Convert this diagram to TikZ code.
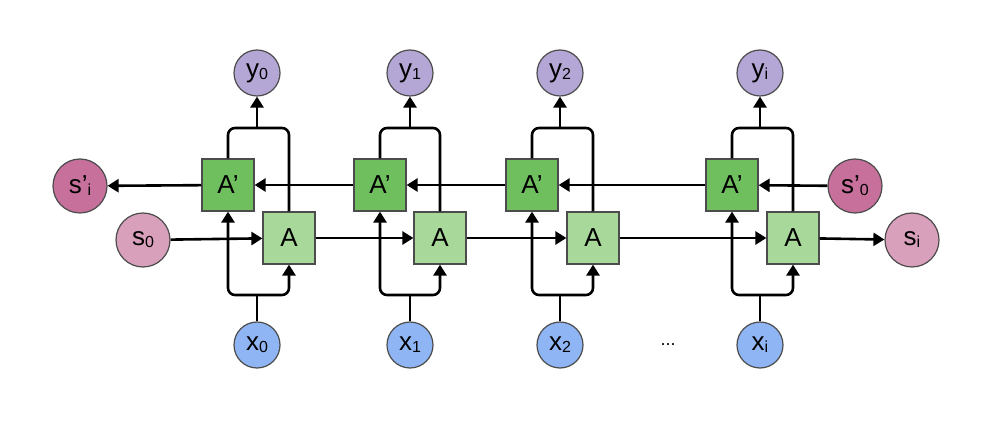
\documentclass[tikz,border=0pt]{standalone}
\usepackage{fontspec}
\setmainfont{Liberation Sans}
\usetikzlibrary{arrows.meta}
\definecolor{cy}{HTML}{B4A7D6}
\definecolor{cx}{HTML}{8FB5F5}
\definecolor{cs}{HTML}{D9A0BC}
\definecolor{csp}{HTML}{C6709B}
\definecolor{cap}{HTML}{6FBF5F}
\definecolor{ca}{HTML}{A9D99A}
\begin{document}
\begin{tikzpicture}[x=1pt,y=-1pt,
  circ/.style={circle,draw=black!70,line width=1.2pt,minimum size=46pt,inner sep=0pt,font=\fontsize{26}{26}\selectfont},
  big/.style={circ,minimum size=54pt},
  box/.style={rectangle,draw=black!70,line width=1.2pt,minimum size=52pt,inner sep=0pt,font=\fontsize{26}{26}\selectfont},
  con/.style={line width=2.6pt,rounded corners=7pt},
  arr/.style={con,-{Triangle[length=11pt,width=13pt]}}]
\useasboundingbox (0,0) rectangle (996,427);
\newcommand\sbs[2]{#1\raisebox{-2pt}{\fontsize{16}{16}\selectfont #2}}
\foreach \i/\a/\ap/\yy/\lab in {0/289/228/257/0,1/440/380/410/1,2/593/532/560/2,3/793/732/760/i}{
  \node[circ,fill=cy] (y\i) at (\yy,73) {\sbs{y}{\lab}};
  \node[circ,fill=cx] (x\i) at (\yy,345) {\sbs{x}{\lab}};
  \node[box,fill=cap] (P\i) at (\ap,185) {A'};
  \node[box,fill=ca] (A\i) at (\a,238) {A};
  \coordinate (xs\i) at (\yy,295);
  \coordinate (ys\i) at (\yy,128);
  \draw[con] (x\i) -- (xs\i);
  \draw[arr] (xs\i) -| (P\i);
  \draw[arr] (xs\i) -| (A\i);
  \draw[con] (P\i) |- (ys\i);
  \draw[con] (A\i) |- (ys\i);
  \draw[arr] (ys\i) -- (y\i);
}
\node[big,fill=csp] (spi) at (80,186) {\sbs{s'}{i}};
\node[big,fill=cs] (s0) at (143,240) {\sbs{s}{0}};
\node[big,fill=csp] (sp0) at (855,186) {\sbs{s'}{0}};
\node[big,fill=cs] (si) at (912,240) {\sbs{s}{i}};
\node[font=\fontsize{18}{18}\selectfont] (dots) at (668,345) {...};
\draw[arr] (s0) -- (A0);
\draw[arr] (A0) -- (A1);
\draw[arr] (A1) -- (A2);
\draw[arr] (A2) -- (A3);
\draw[arr] (A3) -- (si);
\draw[arr] (sp0) -- (P3);
\draw[arr] (P3) -- (P2);
\draw[arr] (P2) -- (P1);
\draw[arr] (P1) -- (P0);
\draw[arr] (P0) -- (spi);
\end{tikzpicture}
\end{document}
